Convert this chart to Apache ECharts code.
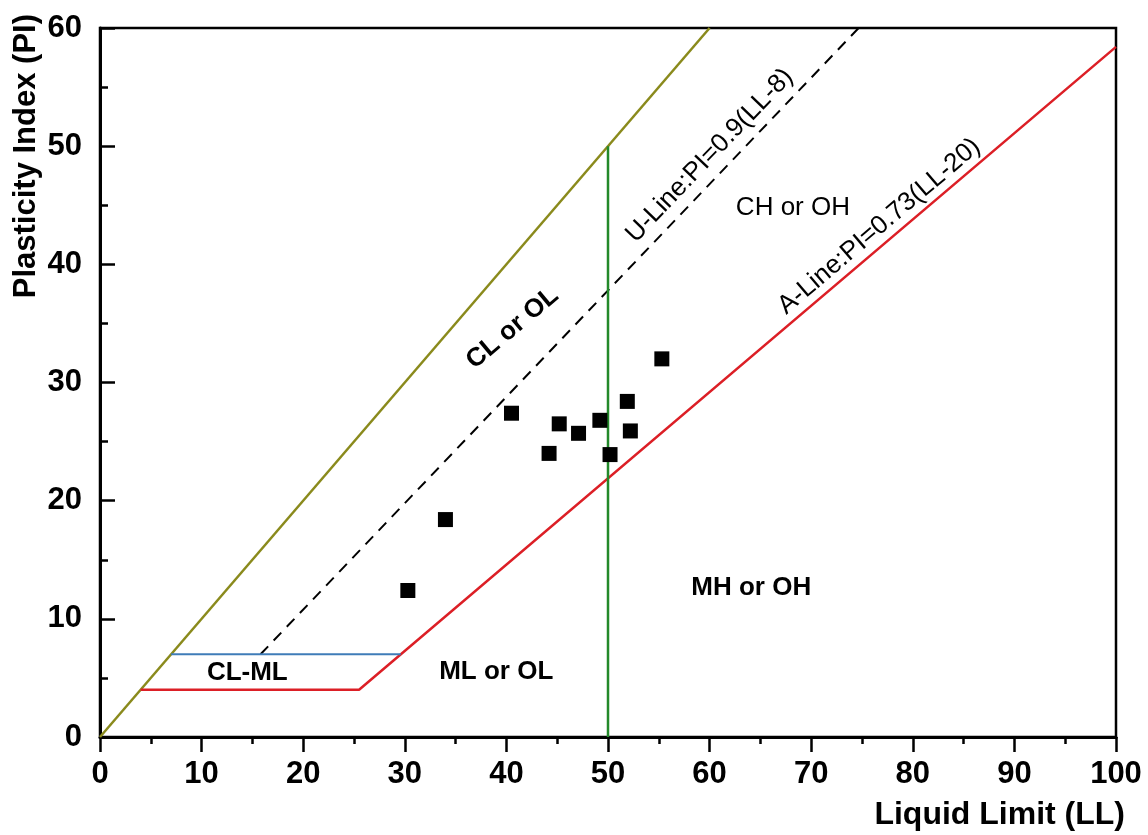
<!DOCTYPE html>
<html>
<head>
<meta charset="utf-8">
<title>Plasticity chart</title>
<script src="https://cdn.jsdelivr.net/npm/echarts@6/dist/echarts.min.js"></script>
<style>
  html, body { margin: 0; padding: 0; background: #fff; }
  #Mycharts { width: 1148px; height: 835px; }
</style>
</head>
<body>
<div id="Mycharts"></div>
<script>
// measured samples: liquid limit LL, plasticity index PI
const samplesLL = [55.3, 51.9, 40.5, 45.2, 49.2, 47.1, 52.2, 44.2, 50.2, 34.0, 30.3]
const samplesPI = [32.0, 28.4, 27.4, 26.5, 26.8, 25.7, 25.9, 24.0, 23.9, 18.4, 12.4]

// classification lines [LL, PI]
const olineLine = [[0, 0], [60, 60]]
const uLine = [[15.8, 7], [74.67, 60]]
const aLine = [[4, 4], [25.5, 4], [100, 58.4]]
const clmlLine = [[7, 7], [29.6, 7]]
const llLine = [[50, 0], [50, 50]]

// zone labels [text, LL, PI]
const zoneLabels = [
  ['CL or OL', 40.6, 34.6],
  ['U-Line:PI=0.9(LL-8)', 60.0, 49.2],
  ['A-Line:PI=0.73(LL-20)', 76.7, 43.2],
  ['CH or OH', 68.2, 44.8],
  ['MH or OH', 64.1, 12.6],
  ['ML or OL', 39.0, 5.5],
  ['CL-ML', 14.5, 5.4]
]
const labelRotate = [40, 46.3, 40.4, 0, 0, 0, 0]
const labelBold = [true, false, false, false, true, true, true]

const xTicks = [0, 10, 20, 30, 40, 50, 60, 70, 80, 90, 100]
const yTicks = [0, 10, 20, 30, 40, 50, 60]

const FONT = 'Liberation Sans, Arial, sans-serif'

let Mycharts = echarts.init(document.getElementById('Mycharts'))

const lineSeries = (name, data, color, width, type) => ({
  name: name,
  type: 'line',
  data: data,
  showSymbol: false,
  symbol: 'none',
  silent: true,
  z: 2,
  lineStyle: { color: color, width: width, type: type || 'solid' }
})

Mycharts.setOption({
  animation: false,
  grid: {
    left: 100,
    right: 32,
    top: 28,
    bottom: 98,
    show: true,
    borderColor: '#000',
    borderWidth: 2.5
  },
  graphic: [
    {
      type: 'text',
      x: 26,
      y: 14,
      rotation: Math.PI / 2,
      style: {
        text: 'Plasticity Index (PI)',
        font: 'bold 31px ' + FONT,
        fill: '#000',
        align: 'right',
        verticalAlign: 'middle'
      }
    },
    {
      type: 'text',
      x: 1125,
      y: 815,
      style: {
        text: 'Liquid Limit (LL)',
        font: 'bold 32px ' + FONT,
        fill: '#000',
        align: 'right',
        verticalAlign: 'middle'
      }
    }
  ],
  xAxis: {
    type: 'value',
    min: xTicks[0],
    max: xTicks[xTicks.length - 1],
    interval: 10,
    splitLine: { show: false },
    axisLine: { onZero: false, lineStyle: { color: '#000', width: 3 } },
    axisTick: { inside: false, length: 15, lineStyle: { color: '#000', width: 2.5 } },
    minorTick: { show: true, splitNumber: 2, length: 7, lineStyle: { color: '#000', width: 2.5 } },
    axisLabel: {
      margin: 22,
      color: '#000',
      fontFamily: FONT,
      fontWeight: 'bold',
      fontSize: 31,
      showMaxLabel: true
    }
  },
  yAxis: {
    type: 'value',
    min: yTicks[0],
    max: yTicks[yTicks.length - 1],
    interval: 10,
    splitLine: { show: false },
    axisLine: { onZero: false, lineStyle: { color: '#000', width: 3 } },
    axisTick: { inside: true, length: 15, lineStyle: { color: '#000', width: 2.5 } },
    minorTick: { show: true, splitNumber: 2, length: 8, lineStyle: { color: '#000', width: 2.5 } },
    axisLabel: {
      margin: 18,
      color: '#000',
      fontFamily: FONT,
      fontWeight: 'bold',
      fontSize: 31
    }
  },
  series: [
    lineSeries('olive', olineLine, '#8a8a1c', 2.5),
    lineSeries('U-Line', uLine, '#000', 2, [11, 8]),
    lineSeries('A-Line', aLine, '#dc1f26', 2.5),
    lineSeries('CL-ML', clmlLine, '#3f7cb8', 2),
    lineSeries('LL=50', llLine, '#23892a', 2.5),
    {
      name: 'zones',
      type: 'scatter',
      symbolSize: 0,
      silent: true,
      z: 3,
      itemStyle: { opacity: 1 },
      data: zoneLabels.map((d, i) => ({
        value: [d[1], d[2]],
        label: {
          show: true,
          position: 'inside',
          formatter: d[0],
          rotate: labelRotate[i],
          color: '#000',
          fontFamily: FONT,
          fontSize: 26,
          fontWeight: labelBold[i] ? 'bold' : 'normal'
        }
      }))
    },
    {
      name: 'samples',
      type: 'scatter',
      symbol: 'rect',
      symbolSize: 15,
      z: 4,
      itemStyle: { color: '#000', opacity: 1 },
      data: samplesLL.map((v, i) => [v, samplesPI[i]])
    }
  ]
})
</script>
</body>
</html>
